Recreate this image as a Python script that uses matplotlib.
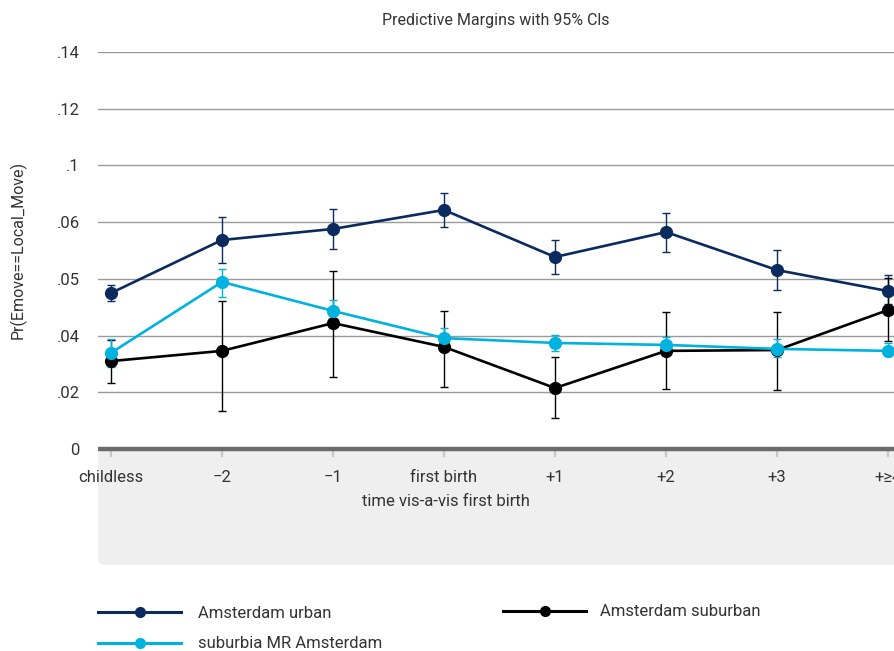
import matplotlib
matplotlib.use("Agg")
import matplotlib.pyplot as plt
from matplotlib.patches import FancyBboxPatch
from matplotlib.transforms import IdentityTransform
from matplotlib.lines import Line2D

plt.rcParams['font.family'] = ['Roboto', 'DejaVu Sans']

categories = ["childless", "\u22122", "\u22121", "first birth", "+1", "+2", "+3", "+\u22654"]

urban = [0.0550, 0.0737, 0.0776, 0.0843, 0.0677, 0.0765, 0.0631, 0.0557]
urban_lo = [0.0522, 0.0656, 0.0705, 0.0783, 0.0617, 0.0695, 0.0561, 0.0511]
urban_hi = [0.0578, 0.0818, 0.0846, 0.0903, 0.0737, 0.0832, 0.0702, 0.0614]

suburban = [0.0310, 0.0346, 0.0444, 0.0360, 0.0215, 0.0346, 0.0349, 0.0490]
suburban_lo = [0.0233, 0.0134, 0.0254, 0.0219, 0.0109, 0.0212, 0.0208, 0.0381]
suburban_hi = [0.0384, 0.0522, 0.0628, 0.0487, 0.0324, 0.0483, 0.0483, 0.0603]

suburbia = [0.0339, 0.0589, 0.0487, 0.0391, 0.0374, 0.0367, 0.0353, 0.0346]
suburbia_lo = [0.0289, 0.0536, 0.0451, 0.0360, 0.0346, 0.0339, 0.0325, 0.0328]
suburbia_hi = [0.0388, 0.0635, 0.0525, 0.0427, 0.0402, 0.0395, 0.0388, 0.0374]

ytick_vals = [0, 0.02, 0.04, 0.06, 0.08, 0.10, 0.12, 0.14]
ytick_labels = ["0", ".02", ".04", ".05", ".06", ".1", ".12", ".14"]

series_names = ["Amsterdam urban", "Amsterdam suburban", "suburbia MR Amsterdam"]
colors = ["#0b2a5e", "#000000", "#00b2df"]

W, H = 895, 651
fig = plt.figure(figsize=(W / 100, H / 100), dpi=100)

# grey band under the x axis
band = FancyBboxPatch((98, H - 565), 900, 565 - 449, boxstyle="round,pad=0,rounding_size=7",
                      transform=IdentityTransform(), facecolor="#efefef", edgecolor="none", zorder=-5)
fig.patches.append(band)

ax = fig.add_axes([98 / W, (H - 449) / H, 797 / W, (449 - 52) / H])
ax.set_zorder(2)
ax.patch.set_alpha(0)
x = list(range(len(categories)))

for vals, lo, hi, col, name in [(urban, urban_lo, urban_hi, colors[0], series_names[0]),
                                 (suburban, suburban_lo, suburban_hi, colors[1], series_names[1]),
                                 (suburbia, suburbia_lo, suburbia_hi, colors[2], series_names[2])]:
    yerr = [[v - l for v, l in zip(vals, lo)], [h - v for v, h in zip(vals, hi)]]
    ax.errorbar(x, vals, yerr=yerr, color=col, marker="o", markersize=8.5, linewidth=1.9,
                elinewidth=1.0, capsize=3, capthick=1.0, label=name, zorder=3)

ax.set_xlim(-0.117, 7.063)
ax.set_ylim(0, 0.14)
ax.set_yticks(ytick_vals)
ax.set_yticklabels(ytick_labels)
ax.set_xticks(x)
ax.set_xticklabels(categories)
ax.grid(axis="y", color="#9a9a9a", linewidth=1.0, zorder=1)
ax.set_axisbelow(True)
for s in ["top", "right", "left"]:
    ax.spines[s].set_visible(False)
ax.spines["bottom"].set_color("#6b6b6b")
ax.spines["bottom"].set_linewidth(3.2)
ax.spines["bottom"].set_capstyle("butt")
ax.spines["bottom"].set_zorder(2)
ax.tick_params(axis="y", length=0, pad=13, labelsize=12, labelcolor="#333333")
ax.tick_params(axis="x", length=6, width=1.6, color="#c8c8c8", pad=9, labelsize=12, labelcolor="#333333")

fig.text(496 / W, 1 - 20 / H, "Predictive Margins with 95% Cls", ha="center", va="center",
         fontsize=11.5, color="#333333")
fig.text(446 / W, 1 - 502 / H, "time vis-a-vis first birth", ha="center", va="center",
         fontsize=12, color="#333333")
fig.text(18 / W, 1 - 250 / H, "Pr(Emove==Local_Move)", ha="center", va="center", rotation=90,
         fontsize=11.5, color="#333333")

def mk(col):
    return Line2D([], [], color=col, marker="o", markersize=7, linewidth=2.2)

leg1 = fig.legend([mk(colors[0]), mk(colors[2])], [series_names[0], series_names[2]],
                  loc="center left", bbox_to_anchor=(98 / W, 1 - 628.5 / H), frameon=False,
                  handlelength=5.0, handletextpad=1.0, labelspacing=0.95, borderpad=0,
                  borderaxespad=0, fontsize=12, labelcolor="#333333")
leg2 = fig.legend([mk(colors[1])], [series_names[1]],
                  loc="center left", bbox_to_anchor=(503 / W, 1 - 612 / H), frameon=False,
                  handlelength=5.0, handletextpad=0.8, borderpad=0,
                  borderaxespad=0, fontsize=12, labelcolor="#333333")

fig.savefig("out.png", dpi=100)
